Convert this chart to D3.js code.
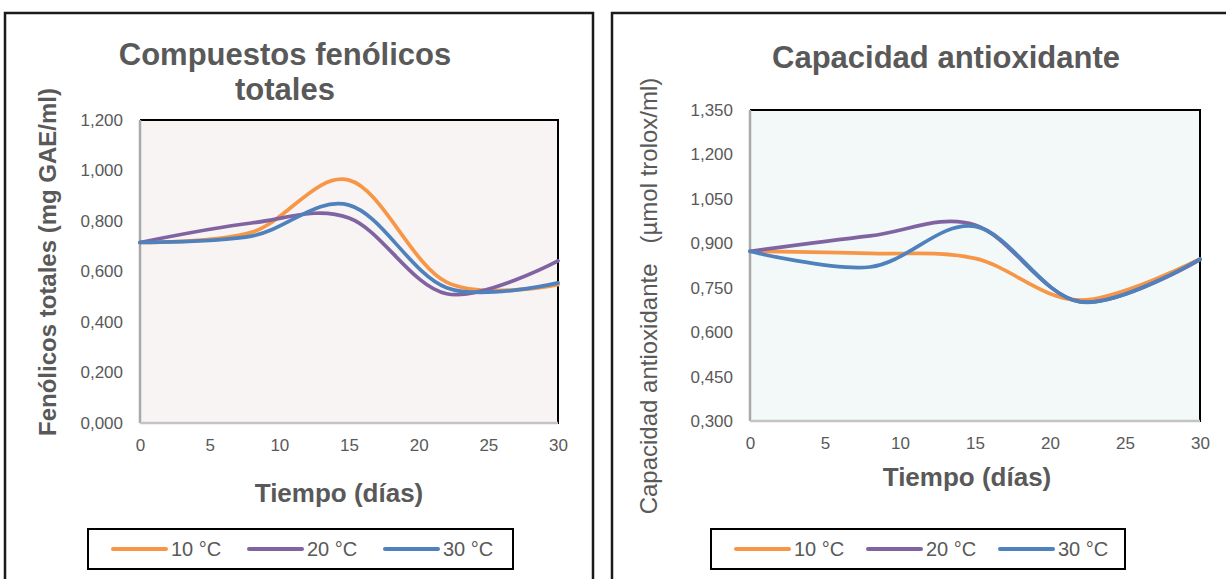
<!DOCTYPE html>
<html>
<head>
<meta charset="utf-8">
<script src="https://cdn.jsdelivr.net/npm/d3@7"></script>
<style>
  html, body { margin: 0; padding: 0; background: #ffffff; }
  svg { display: block; font-family: "Liberation Sans", Arial, sans-serif; }
</style>
</head>
<body>
<svg id="chart" width="1226" height="579"></svg>
<script>
// Sampling days (x values shared by both panels)
const days = [0, 8, 15, 22, 30];
const seriesNames = ["10 °C", "20 °C", "30 °C"];
const seriesColors = ["#F79646", "#8064A2", "#4F81BD"];

// Total phenolic compounds (mg GAE/ml)
const fenolicos10 = [0.715, 0.755, 0.962, 0.558, 0.548];
const fenolicos20 = [0.715, 0.792, 0.812, 0.512, 0.642];
const fenolicos30 = [0.715, 0.740, 0.863, 0.536, 0.555];

// Antioxidant capacity (µmol trolox/ml)
const antiox10 = [0.873, 0.866, 0.849, 0.708, 0.847];
const antiox20 = [0.873, 0.925, 0.962, 0.703, 0.845];
const antiox30 = [0.873, 0.820, 0.957, 0.702, 0.847];

// Axis ticks
const xTicks = [0, 5, 10, 15, 20, 25, 30];
const fenolicosTicks = [0, 0.2, 0.4, 0.6, 0.8, 1.0, 1.2];
const antioxTicks = [0.3, 0.45, 0.6, 0.75, 0.9, 1.05, 1.2, 1.35];

const locale = d3.formatLocale({ decimal: ",", thousands: ".", grouping: [3], currency: ["", ""] });
const fmt3 = locale.format(".3f");

const svg = d3.select("#chart");
const TEXT = "#595959";

const panels = [
  {
    frame: { x: 5, y: 13, w: 588, h: 580 },
    plot: { left: 140, right: 558, top: 120, bottom: 423 },
    yDomain: [0, 1.2],
    yTicks: fenolicosTicks,
    series: [fenolicos10, fenolicos20, fenolicos30],
    bg: "#F8F4F4",
    title: ["Compuestos fenólicos", "totales"],
    titleX: 285, titleY: 65, titleLine: 35,
    yTitle: "Fenólicos totales (mg GAE/ml)", yTitleBold: true, yTitleSize: 24,
    yTitleX: 56, yTitleY: 262,
    xTitleX: 339, xTitleY: 502,
    legend: { x: 88, y: 529, w: 425, h: 40, first: 113, step: 136 }
  },
  {
    frame: { x: 612, y: 13, w: 640, h: 580 },
    plot: { left: 750, right: 1200, top: 110, bottom: 421 },
    yDomain: [0.3, 1.35],
    yTicks: antioxTicks,
    series: [antiox10, antiox20, antiox30],
    bg: "#F3F9F9",
    title: ["Capacidad antioxidante"],
    titleX: 946, titleY: 68, titleLine: 35,
    yTitle: "Capacidad antioxidante   (µmol trolox/ml)", yTitleBold: false, yTitleSize: 24,
    yTitleX: 657, yTitleY: 296,
    xTitleX: 967, xTitleY: 486,
    legend: { x: 711, y: 529, w: 414, h: 40, first: 736, step: 132 }
  }
];

panels.forEach(p => {
  const g = svg.append("g");

  // chart frame
  g.append("rect")
    .attr("x", p.frame.x).attr("y", p.frame.y)
    .attr("width", p.frame.w).attr("height", p.frame.h)
    .attr("fill", "#ffffff").attr("stroke", "#1a1a1a").attr("stroke-width", 2.5);

  const x = d3.scaleLinear().domain([0, 30]).range([p.plot.left, p.plot.right]);
  const y = d3.scaleLinear().domain(p.yDomain).range([p.plot.bottom, p.plot.top]);

  // plot area
  g.append("rect")
    .attr("x", p.plot.left).attr("y", p.plot.top)
    .attr("width", p.plot.right - p.plot.left).attr("height", p.plot.bottom - p.plot.top)
    .attr("fill", p.bg);
  g.append("line").attr("x1", p.plot.left).attr("x2", p.plot.right + 1)
    .attr("y1", p.plot.top).attr("y2", p.plot.top)
    .attr("stroke", "#000").attr("stroke-width", 2);
  g.append("line").attr("x1", p.plot.right).attr("x2", p.plot.right)
    .attr("y1", p.plot.top).attr("y2", p.plot.bottom + 1)
    .attr("stroke", "#000").attr("stroke-width", 2);
  g.append("line").attr("x1", p.plot.left).attr("x2", p.plot.left)
    .attr("y1", p.plot.top).attr("y2", p.plot.bottom)
    .attr("stroke", "#a9a9a9").attr("stroke-width", 2.5);
  g.append("line").attr("x1", p.plot.left).attr("x2", p.plot.right)
    .attr("y1", p.plot.bottom).attr("y2", p.plot.bottom)
    .attr("stroke", "#c4c4c4").attr("stroke-width", 2.5);

  // axes (labels only)
  const yAxis = d3.axisLeft(y).tickValues(p.yTicks).tickSize(0).tickPadding(17).tickFormat(fmt3);
  const ya = g.append("g").attr("transform", `translate(${p.plot.left},0)`).call(yAxis);
  ya.select(".domain").remove();
  ya.selectAll("text").attr("fill", TEXT).style("font-size", "17px")
    .style("font-family", "'Liberation Sans', Arial, sans-serif");

  const xAxis = d3.axisBottom(x).tickValues(xTicks).tickSize(0).tickPadding(16).tickFormat(d3.format("d"));
  const xa = g.append("g").attr("transform", `translate(0,${p.plot.bottom})`).call(xAxis);
  xa.select(".domain").remove();
  xa.selectAll("text").attr("fill", TEXT).style("font-size", "17px")
    .style("font-family", "'Liberation Sans', Arial, sans-serif");

  // series
  const line = d3.line()
    .x((d, i) => x(days[i]))
    .y(d => y(d))
    .curve(d3.curveCardinal.tension(0));
  p.series.forEach((s, i) => {
    g.append("path").datum(s)
      .attr("d", line)
      .attr("fill", "none")
      .attr("stroke", seriesColors[i])
      .attr("stroke-width", 3.7)
      .attr("stroke-linejoin", "round")
      .attr("stroke-linecap", "round");
  });

  // titles
  const t = g.append("text").attr("x", p.titleX).attr("y", p.titleY)
    .attr("text-anchor", "middle").attr("fill", TEXT)
    .style("font-size", "31px").style("font-weight", "bold");
  p.title.forEach((line, i) => {
    t.append("tspan").attr("x", p.titleX).attr("y", p.titleY + i * p.titleLine).text(line);
  });

  g.append("text")
    .attr("transform", `translate(${p.yTitleX},${p.yTitleY}) rotate(-90)`)
    .attr("text-anchor", "middle").attr("fill", TEXT)
    .attr("xml:space", "preserve")
    .style("white-space", "pre")
    .style("font-size", p.yTitleSize + "px")
    .style("font-weight", p.yTitleBold ? "bold" : "normal")
    .text(p.yTitle);

  g.append("text").attr("x", p.xTitleX).attr("y", p.xTitleY)
    .attr("text-anchor", "middle").attr("fill", TEXT)
    .style("font-size", "26px").style("font-weight", "bold")
    .text("Tiempo (días)");

  // legend
  const L = p.legend;
  g.append("rect").attr("x", L.x).attr("y", L.y).attr("width", L.w).attr("height", L.h)
    .attr("fill", "#ffffff").attr("stroke", "#000").attr("stroke-width", 2);
  seriesNames.forEach((name, i) => {
    const ox = L.first + i * L.step;
    const cy = L.y + L.h / 2;
    g.append("line").attr("x1", ox).attr("x2", ox + 53).attr("y1", cy).attr("y2", cy)
      .attr("stroke", seriesColors[i]).attr("stroke-width", 4).attr("stroke-linecap", "round");
    g.append("text").attr("x", ox + 58).attr("y", cy).attr("dy", "0.36em")
      .attr("fill", TEXT).style("font-size", "20px").text(name);
  });
});
</script>
</body>
</html>
